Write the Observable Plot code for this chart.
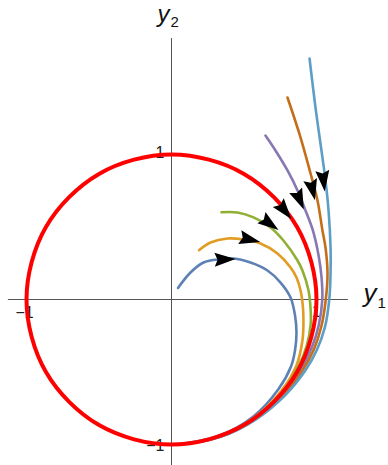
<!DOCTYPE html>
<html>
<head>
<meta charset="utf-8">
<script src="https://cdn.jsdelivr.net/npm/d3@7"></script>
<script src="https://cdn.jsdelivr.net/npm/@observablehq/plot@0.6"></script>
<style>
  html, body { margin: 0; padding: 0; background: #fff; }
  #chart svg { display: block; }
</style>
</head>
<body>
<div id="chart"></div>
<script>
// Trajectories in the (y1, y2) phase plane, each started on the ray at 60°
// (start radius 0.1, 0.4, 0.7, 1.3, 1.6, 1.9); all wind clockwise onto the unit circle.
const traj01 = [[0.045,0.08],[0.131,0.186],[0.221,0.255],[0.317,0.276],[0.428,0.283],[0.545,0.255],[0.662,0.200],[0.752,0.117],[0.821,0.014],[0.852,-0.110],[0.862,-0.230],[0.852,-0.350],[0.825,-0.460],[0.737,-0.619],[0.565,-0.807],[0.340,-0.935],[0.087,-0.994],[0,-0.999]];
const traj04 = [[0.19,0.34],[0.269,0.393],[0.386,0.421],[0.497,0.414],[0.614,0.386],[0.731,0.317],[0.821,0.221],[0.862,0.152],[0.890,0.062],[0.905,-0.035],[0.910,-0.145],[0.903,-0.283],[0.861,-0.457],[0.755,-0.633],[0.571,-0.814],[0.341,-0.938],[0.087,-0.995],[0,-1]];
const traj07 = [[0.345,0.602],[0.455,0.600],[0.566,0.566],[0.683,0.497],[0.772,0.407],[0.869,0.269],[0.903,0.200],[0.945,0.062],[0.959,-0.062],[0.960,-0.169],[0.932,-0.321],[0.874,-0.464],[0.762,-0.640],[0.573,-0.817],[0.342,-0.939],[0.087,-0.996],[0,-1]];
const traj13 = [[0.648,1.131],[0.717,1.028],[0.800,0.890],[0.869,0.752],[0.924,0.614],[0.975,0.476],[1.015,0.300],[1.035,0.150],[1.040,0.0],[1.015,-0.179],[0.967,-0.333],[0.895,-0.476],[0.772,-0.648],[0.576,-0.822],[0.343,-0.942],[0.087,-0.997],[0,-1]];
const traj16 = [[0.800,1.393],[0.890,1.117],[0.959,0.869],[1.007,0.683],[1.041,0.476],[1.062,0.359],[1.076,0.179],[1.064,0.0],[1.034,-0.183],[0.984,-0.339],[0.908,-0.482],[0.778,-0.653],[0.578,-0.825],[0.343,-0.943],[0.087,-0.997],[0,-1]];
const traj19 = [[0.952,1.662],[0.993,1.324],[1.041,0.979],[1.062,0.821],[1.083,0.614],[1.097,0.359],[1.097,0.179],[1.088,0.0],[1.059,-0.187],[1.003,-0.346],[0.923,-0.490],[0.785,-0.659],[0.580,-0.828],[0.344,-0.945],[0.087,-0.997],[0,-1]];

// The limit cycle (unit circle), listed clockwise from the top
const limitCycle = [[0,1],[0.5,0.866],[0.866,0.5],[1,0],[0.866,-0.5],[0.5,-0.866],[0,-1],[-0.5,-0.866],[-0.866,-0.5],[-1,0],[-0.866,0.5],[-0.5,0.866]];

const trajNames = ["r0 = 0.1", "r0 = 0.4", "r0 = 0.7", "r0 = 1.3", "r0 = 1.6", "r0 = 1.9"];
const trajColors = ["#5E81B5", "#E19C24", "#8FB032", "#8778B3", "#C56E1A", "#5D9EC7"];
const trajectories = [traj01, traj04, traj07, traj13, traj16, traj19];

// Where the direction arrowheads sit on each curve (same order), then the limit cycle's
const arrowAt = [[0.366,0.276],[0.538,0.414],[0.676,0.524],[0.883,0.690],[0.972,0.759],[1.048,0.821]];
const cycleArrowAt = [0.779, 0.614];

// Tick values on both axes
const ticks = [-1, 1];
const tickText = d => d < 0 ? "\u22121" : "1";

// ---- layout ----
const W = 388, H = 465;
const PX = 145;            // pixels per unit on both axes
const OX = 171, OY = 299;  // pixel position of the origin
const xAxisExtent = [-1.125, 1.22];
const yAxisExtent = [-1.2, 1.8];
const font = "'Liberation Sans', Arial, sans-serif";

// Tangent heading (degrees clockwise from up) of a polyline near point p
function heading(pts, p, closed) {
  const n = pts.length, m = closed ? n : n - 1;
  let best = {d: Infinity, i: 0, t: 0};
  for (let i = 0; i < m; i++) {
    const a = pts[i], b = pts[(i + 1) % n];
    const vx = b[0] - a[0], vy = b[1] - a[1];
    let t = ((p[0] - a[0]) * vx + (p[1] - a[1]) * vy) / (vx * vx + vy * vy);
    t = Math.max(0, Math.min(1, t));
    const qx = a[0] + t * vx - p[0], qy = a[1] + t * vy - p[1];
    const d = qx * qx + qy * qy;
    if (d < best.d) best = {d, i, t};
  }
  const tan = (k) => {
    const prev = pts[closed ? (k - 1 + n) % n : Math.max(k - 1, 0)];
    const next = pts[closed ? (k + 1) % n : Math.min(k + 1, n - 1)];
    const dx = next[0] - prev[0], dy = next[1] - prev[1], l = Math.hypot(dx, dy);
    return [dx / l, dy / l];
  };
  const t0 = tan(best.i), t1 = tan(closed ? (best.i + 1) % n : best.i + 1);
  const tx = (1 - best.t) * t0[0] + best.t * t1[0];
  const ty = (1 - best.t) * t0[1] + best.t * t1[1];
  return Math.atan2(tx, ty) * 180 / Math.PI;
}

// Filled arrowhead with a slightly notched back, pointing up before rotation
const arrowhead = {
  draw(context, size) {
    const s = Math.sqrt(size / Math.PI) / 10;
    context.moveTo(0, -11 * s);
    context.lineTo(7 * s, 10 * s);
    context.lineTo(0, 7 * s);
    context.lineTo(-7 * s, 10 * s);
    context.closePath();
  }
};

const lineRows = trajectories.flatMap((pts, k) => pts.map(([a, b]) => ({name: trajNames[k], y1: a, y2: b})));
const cycleRows = limitCycle.map(([a, b]) => ({y1: a, y2: b}));
const arrowRows = arrowAt.map((p, k) => ({y1: p[0], y2: p[1], angle: heading(trajectories[k], p, false)}))
  .concat([{y1: cycleArrowAt[0], y2: cycleArrowAt[1], angle: heading(limitCycle, cycleArrowAt, true)}]);

const chart = Plot.plot({
  width: W,
  height: H,
  margin: 0,
  style: {background: "#fff", fontFamily: font, overflow: "visible"},
  x: {domain: [-OX / PX, (W - OX) / PX], axis: null},
  y: {domain: [(OY - H) / PX, OY / PX], axis: null},
  color: {domain: trajNames, range: trajColors},
  marks: [
    // axes through the origin
    Plot.ruleY([0], {x1: xAxisExtent[0], x2: xAxisExtent[1], stroke: "#555", strokeWidth: 1}),
    Plot.ruleX([0], {y1: yAxisExtent[0], y2: yAxisExtent[1], stroke: "#555", strokeWidth: 1}),
    // tick labels on the y1 axis
    Plot.text(ticks.filter(d => d < 0), {x: d => d, y: 0, text: tickText, dx: -2, dy: 13.5, fontSize: 16, fill: "#222"}),
    Plot.text(ticks.filter(d => d > 0), {x: d => d, y: 0, text: tickText, dx: 0, dy: 12.5, fontSize: 16, fill: "#222"}),
    // tick labels on the y2 axis
    Plot.text(ticks.filter(d => d < 0), {x: 0, y: d => d, text: tickText, textAnchor: "end", dx: -7, dy: 1, fontSize: 16, fill: "#222"}),
    Plot.text(ticks.filter(d => d > 0), {x: 0, y: d => d, text: tickText, textAnchor: "end", dx: -7, dy: -2, fontSize: 16, fill: "#222"}),
    // axis labels y1, y2 (italic letter, upright subscript)
    Plot.text(["y"], {x: xAxisExtent[1], y: 0, text: d => d, textAnchor: "start", lineAnchor: "bottom", dx: 15, dy: 2.5, fontSize: 26, fontStyle: "italic", fill: "#111"}),
    Plot.text(["1"], {x: xAxisExtent[1], y: 0, text: d => d, textAnchor: "start", lineAnchor: "bottom", dx: 29, dy: 8, fontSize: 15, fill: "#111"}),
    Plot.text(["y"], {x: 0, y: yAxisExtent[1], text: d => d, textAnchor: "start", lineAnchor: "bottom", dx: -14, dy: -16.5, fontSize: 24, fontStyle: "italic", fill: "#111"}),
    Plot.text(["2"], {x: 0, y: yAxisExtent[1], text: d => d, textAnchor: "start", lineAnchor: "bottom", dx: -1, dy: -12, fontSize: 15, fill: "#111"}),
    // trajectories
    Plot.line(lineRows, {x: "y1", y: "y2", z: "name", stroke: "name", strokeWidth: 2.6, curve: "catmull-rom"}),
    // limit cycle
    Plot.line(cycleRows, {x: "y1", y: "y2", stroke: "#FF0000", strokeWidth: 4, curve: "catmull-rom-closed"}),
    // direction arrowheads
    Plot.dot(arrowRows, {x: "y1", y: "y2", rotate: "angle", symbol: arrowhead, r: 10, fill: "#000", stroke: "none"})
  ]
});

document.getElementById("chart").appendChild(chart);
</script>
</body>
</html>
